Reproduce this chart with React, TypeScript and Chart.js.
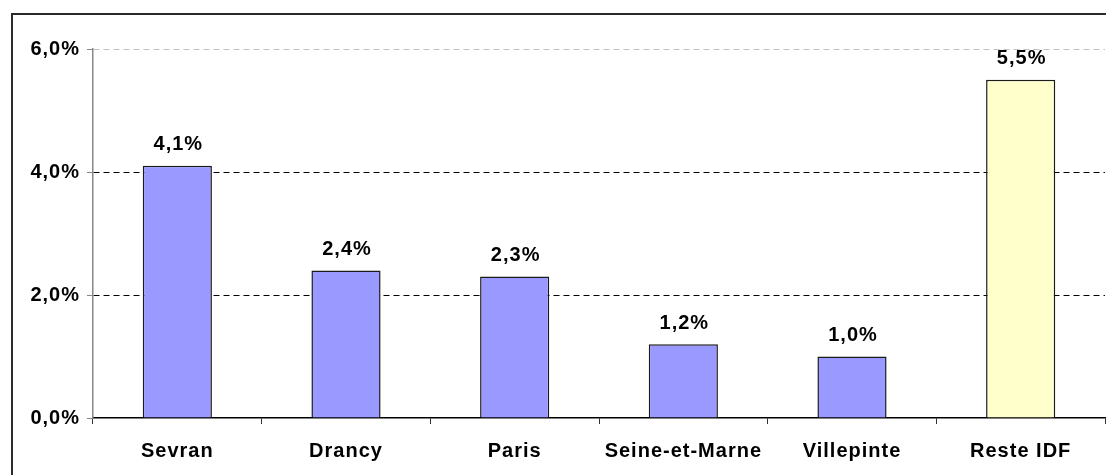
import React, { useEffect, useRef } from "react";
import { Chart, registerables } from "chart.js";

Chart.register(...registerables);

const categories = ["Sevran", "Drancy", "Paris", "Seine-et-Marne", "Villepinte", "Reste IDF"];
const values = [4.1, 2.4, 2.3, 1.2, 1.0, 5.5];
const barColors = ["#9999FF", "#9999FF", "#9999FF", "#9999FF", "#9999FF", "#FFFFCC"];
const yMin = 0;
const yMax = 6;
const yStep = 2;

const FONT = "'Liberation Sans', Arial, sans-serif";
const SPACING = "1px";
const fmt = (v: number) => v.toFixed(1).replace(".", ",") + "%";

const spacingPlugin = {
  id: "spacing",
  beforeLayout(chart: any) {
    chart.ctx.letterSpacing = SPACING;
  },
  beforeDraw(chart: any) {
    const ctx = chart.ctx;
    ctx.letterSpacing = SPACING;
    ctx.save();
    ctx.fillStyle = "#ffffff";
    ctx.fillRect(0, 0, chart.width, chart.height);
    ctx.strokeStyle = "#2a2a2a";
    ctx.lineWidth = 2;
    ctx.strokeRect(12, 14, chart.width + 100, chart.height + 100);
    ctx.restore();
  },
};

const labelPlugin = {
  id: "barLabels",
  afterDatasetsDraw(chart: any) {
    const ctx = chart.ctx;
    const meta = chart.getDatasetMeta(0);
    ctx.save();
    ctx.font = `bold 20px ${FONT}`;
    ctx.letterSpacing = SPACING;
    ctx.fillStyle = "#000000";
    ctx.textAlign = "center";
    ctx.textBaseline = "middle";
    meta.data.forEach((bar: any, i: number) => {
      ctx.fillText(fmt(values[i]), bar.x + 1, bar.y - 21);
    });
    ctx.restore();
  },
};

export default function App() {
  const ref = useRef<HTMLCanvasElement | null>(null);

  useEffect(() => {
    if (!ref.current) return;
    const chart = new Chart(ref.current, {
      type: "bar",
      data: {
        labels: categories,
        datasets: [
          {
            data: values,
            backgroundColor: barColors,
            borderColor: "#1a1a1a",
            borderWidth: 1.5,
            barPercentage: 0.41,
            categoryPercentage: 1,
          },
        ],
      },
      options: {
        animation: false,
        responsive: false,
        layout: { padding: { top: 49, right: 1, left: 0, bottom: 0 } },
        plugins: {
          legend: { display: false },
          tooltip: { enabled: false },
          title: { display: false },
        },
        scales: {
          x: {
            afterFit: (s: any) => {
              s.height = 57;
            },
            border: { display: true, color: "#000000", width: 1.5 },
            grid: {
              offset: true,
              drawOnChartArea: false,
              drawTicks: true,
              tickLength: 6,
              tickColor: "#333333",
              tickWidth: 1,
            },
            ticks: {
              color: "#000000",
              padding: 15,
              maxRotation: 0,
              autoSkip: false,
              font: { family: FONT, size: 20, weight: "bold" },
            },
          },
          y: {
            min: yMin,
            max: yMax,
            afterFit: (s: any) => {
              s.width = 93;
            },
            border: { display: true, color: "#888888", width: 1.5, dash: [6, 4] },
            grid: {
              color: (c: any) =>
                c.tick && c.tick.value === yMax ? "#c0c0c0" : c.tick && c.tick.value === 0 ? "rgba(0,0,0,0)" : "#000000",
              lineWidth: 1,
              tickBorderDash: [],
              tickColor: "#888888",
              tickLength: 6,
              tickWidth: 1,
            },
            ticks: {
              stepSize: yStep,
              color: "#000000",
              padding: 7,
              font: { family: FONT, size: 20, weight: "bold" },
              callback: (v: any) => fmt(Number(v)),
            },
          },
        },
      },
      plugins: [spacingPlugin, labelPlugin],
    });
    return () => chart.destroy();
  }, []);

  return (
    <div style={{ position: "fixed", left: 0, top: 0, width: 1106, height: 475, background: "#fff" }}>
      <canvas ref={ref} width={1106} height={475} style={{ display: "block" }} />
    </div>
  );
}
